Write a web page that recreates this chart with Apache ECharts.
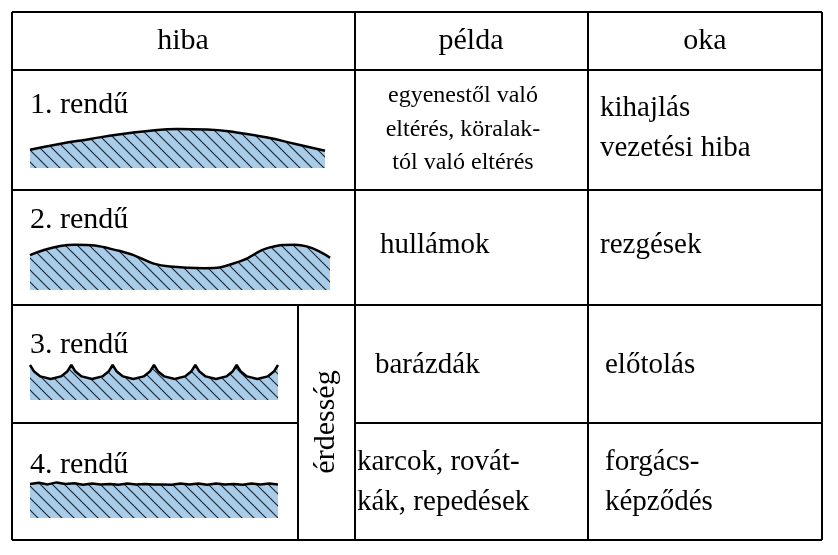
<!DOCTYPE html><html><head><meta charset="utf-8">
<script src="https://cdn.jsdelivr.net/npm/echarts@6/dist/echarts.min.js"></script>
<style>html,body{margin:0;background:#fff}#c{width:838px;height:555px}</style></head><body><div id="c"></div>
<script>
const headers=["hiba","példa","oka"];
const profile1=[[0,.38],[1,.5],[2,.6],[3,.7],[4,.77],[5,.81],[6,.8],[7,.74],[8,.64],[9,.5],[10,.36]];
const profile2=[[0,.67],[45,.87],[90,.75],[140,.45],[175,.42],[210,.55],[240,.82],[265,.87],[300,.62]];
const scallop=[[0,.875],[.1,.71],[.25,.59],[.5,.525],[.75,.59],[.9,.71]];
const profile3=[];
for(let k=0;k<6;k++)scallop.forEach(p=>profile3.push([k+p[0],p[1]]));profile3.push([6,.875]);
const profile4=[[0,.85],[.5,.88],[1,.84],[1.5,.89],[2,.85],[2.5,.87],[3,.83],[3.5,.86],[4,.84],[4.5,.85],[5,.83],[5.5,.86],[6,.84],[6.5,.85],[7,.84],[7.5,.84],[8,.83],[8.5,.86],[9,.84],[9.5,.86],[10,.83],[10.5,.86],[11,.84],[11.5,.85],[12,.83],[12.5,.86],[13,.84],[13.5,.86],[14,.84]];
const cv=document.createElement('canvas');cv.width=12;cv.height=12;const g=cv.getContext('2d');
g.fillStyle='#a9cde9';g.fillRect(0,0,12,12);g.strokeStyle='#1a2a3a';g.lineWidth=1.2;
g.beginPath();g.moveTo(0,0);g.lineTo(12,12);g.moveTo(-6,6);g.lineTo(6,18);g.moveTo(6,-6);g.lineTo(18,6);g.stroke();
const grids=[{left:30,top:120,width:295,height:48},{left:30,top:238,width:300,height:52},{left:30,top:360,width:248,height:40},{left:30,top:478,width:248,height:40}];
const datas=[profile1,profile2,profile3,profile4];
const xmax=[10,300,6,14];
const ch=echarts.init(document.getElementById('c'));
const L=(x1,y1,x2,y2)=>({type:'line',shape:{x1,y1,x2,y2},style:{stroke:'#000',lineWidth:2},z:10});
const T=(x,y,t,s,al)=>({type:'text',x,y,style:{text:t,fontFamily:'Liberation Serif',fontSize:s,fill:'#000',align:al||'left',verticalAlign:'middle'},z:10});
ch.setOption({animation:false,
grid:grids,
xAxis:grids.map((_,i)=>({type:'value',gridIndex:i,min:0,max:xmax[i],show:false})),
yAxis:grids.map((_,i)=>({type:'value',gridIndex:i,min:0,max:1,show:false})),
series:datas.map((d,i)=>({type:'line',xAxisIndex:i,yAxisIndex:i,data:d,smooth:i<2,symbol:'none',lineStyle:{color:'#000',width:2.5},areaStyle:{origin:'start',color:{image:cv,repeat:'repeat'},opacity:1}})),
graphic:[
L(12,12,822,12),L(12,70,822,70),L(12,190,822,190),L(12,305,822,305),L(12,423,298,423),L(355,423,822,423),L(12,540,822,540),
L(12,12,12,540),L(355,12,355,540),L(588,12,588,540),L(822,12,822,540),L(298,305,298,540),
T(183,41,headers[0],30,'center'),T(471,41,headers[1],30,'center'),T(705,41,headers[2],30,'center'),
T(30,105,'1. rendű',30),T(463,96,'egyenestől való',24,'center'),T(463,130,'eltérés, köralak-',24,'center'),T(463,163,'tól való eltérés',24,'center'),
T(600,108,'kihajlás',29),T(600,148,'vezetési hiba',29),
T(30,220,'2. rendű',30),T(380,245,'hullámok',29),T(600,245,'rezgések',29),
T(30,345,'3. rendű',30),T(375,365,'barázdák',29),T(605,365,'előtolás',29),
T(30,465,'4. rendű',30),T(357,462,'karcok, rovát-',29),T(357,502,'kák, repedések',29),T(605,462,'forgács-',29),T(605,502,'képződés',29),
{type:'text',x:326,y:422,rotation:Math.PI/2,style:{text:'érdesség',fontFamily:'Liberation Serif',fontSize:30,fill:'#000',align:'center',verticalAlign:'middle'},z:10}
]});
</script></body></html>
